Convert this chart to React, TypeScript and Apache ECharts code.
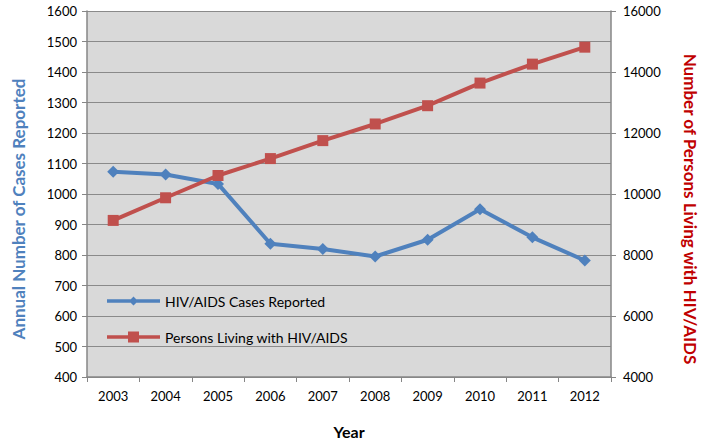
import React, { useEffect, useRef } from "react";
import * as echarts from "echarts";

const years = ["2003", "2004", "2005", "2006", "2007", "2008", "2009", "2010", "2011", "2012"];
const casesReported = [1073, 1064, 1033, 837, 820, 795, 850, 950, 858, 782];
const personsLiving = [9134, 9876, 10606, 11161, 11750, 12296, 12895, 13637, 14258, 14814];

const FONT = "Lato, 'Open Sans', sans-serif";
const BLUE_ICON = "path://M0,4.2L53,4.2L53,7.8L0,7.8Z M26.5,1.5L31,6L26.5,10.5L22,6Z";
const RED_ICON = "path://M0,4.2L53,4.2L53,7.8L0,7.8Z M21,0.5L32,0.5L32,11.5L21,11.5Z";

export default function App() {
  const ref = useRef<HTMLDivElement>(null);
  useEffect(() => {
    const chart = echarts.init(ref.current!, null, { renderer: "svg" });
    chart.setOption({
      animation: false,
      textStyle: { fontFamily: FONT },
      grid: {
        left: 87,
        right: 86,
        top: 11,
        bottom: 66,
        show: true,
        backgroundColor: "#D9D9D9",
        borderWidth: 0,
      },
      legend: {
        orient: "vertical",
        left: 102,
        top: 289,
        itemWidth: 53,
        itemHeight: 12,
        itemGap: 22,
        textStyle: { fontFamily: FONT, fontSize: 14, color: "#000" },
        data: [
          { name: "HIV/AIDS Cases Reported", icon: BLUE_ICON },
          { name: "Persons Living with HIV/AIDS", icon: RED_ICON },
        ],
      },
      xAxis: {
        type: "category",
        data: years,
        boundaryGap: true,
        name: "Year",
        nameLocation: "middle",
        nameGap: 46,
        nameTextStyle: { fontFamily: FONT, fontSize: 16, fontWeight: "bold", color: "#000" },
        axisLine: { lineStyle: { color: "#868686", width: 1.5 } },
        axisTick: { show: true, length: 5, lineStyle: { color: "#868686" } },
        axisLabel: { color: "#000", fontSize: 13, margin: 12, fontFamily: FONT },
        splitLine: { show: false },
      },
      yAxis: [
        {
          type: "value",
          min: 400,
          max: 1600,
          interval: 100,
          position: "left",
          name: "Annual Number of Cases Reported",
          nameLocation: "middle",
          nameGap: 60,
          nameTextStyle: {
            fontFamily: FONT,
            fontSize: 17,
            fontWeight: "bold",
            color: "#4F81BD",
            padding: [0, 30, 0, 0],
          },
          axisLine: { show: true, lineStyle: { color: "#868686", width: 1.5 } },
          axisTick: { show: true, length: 5, lineStyle: { color: "#868686" } },
          axisLabel: { color: "#000", fontSize: 13, margin: 10, fontFamily: FONT, formatter: (v: number) => String(v) },
          splitLine: { show: true, lineStyle: { color: "#8A8A8A", width: 1.2 } },
        },
        {
          type: "value",
          min: 4000,
          max: 16000,
          interval: 2000,
          position: "right",
          name: "Number of Persons Living with HIV/AIDS",
          nameLocation: "middle",
          nameGap: 71,
          nameRotate: -90,
          nameTextStyle: {
            fontFamily: FONT,
            fontSize: 17,
            fontWeight: "bold",
            color: "#C00000",
            padding: [0, 0, 0, 30],
          },
          axisLine: { show: true, lineStyle: { color: "#868686", width: 1.5 } },
          axisTick: { show: true, length: 5, lineStyle: { color: "#868686" } },
          axisLabel: { color: "#000", fontSize: 13, margin: 12, fontFamily: FONT, formatter: (v: number) => String(v) },
          splitLine: { show: false },
        },
      ],
      series: [
        {
          name: "HIV/AIDS Cases Reported",
          type: "line",
          yAxisIndex: 0,
          data: casesReported,
          symbol: "diamond",
          symbolSize: 12,
          lineStyle: { color: "#4F81BD", width: 4 },
          itemStyle: { color: "#4F81BD" },
        },
        {
          name: "Persons Living with HIV/AIDS",
          type: "line",
          yAxisIndex: 1,
          data: personsLiving,
          symbol: "rect",
          symbolSize: 11,
          lineStyle: { color: "#C0504D", width: 4 },
          itemStyle: { color: "#C0504D" },
        },
      ],
    });
    return () => chart.dispose();
  }, []);
  return <div ref={ref} style={{ width: 707, height: 444, position: "absolute", left: 0, top: 0 }} />;
}
